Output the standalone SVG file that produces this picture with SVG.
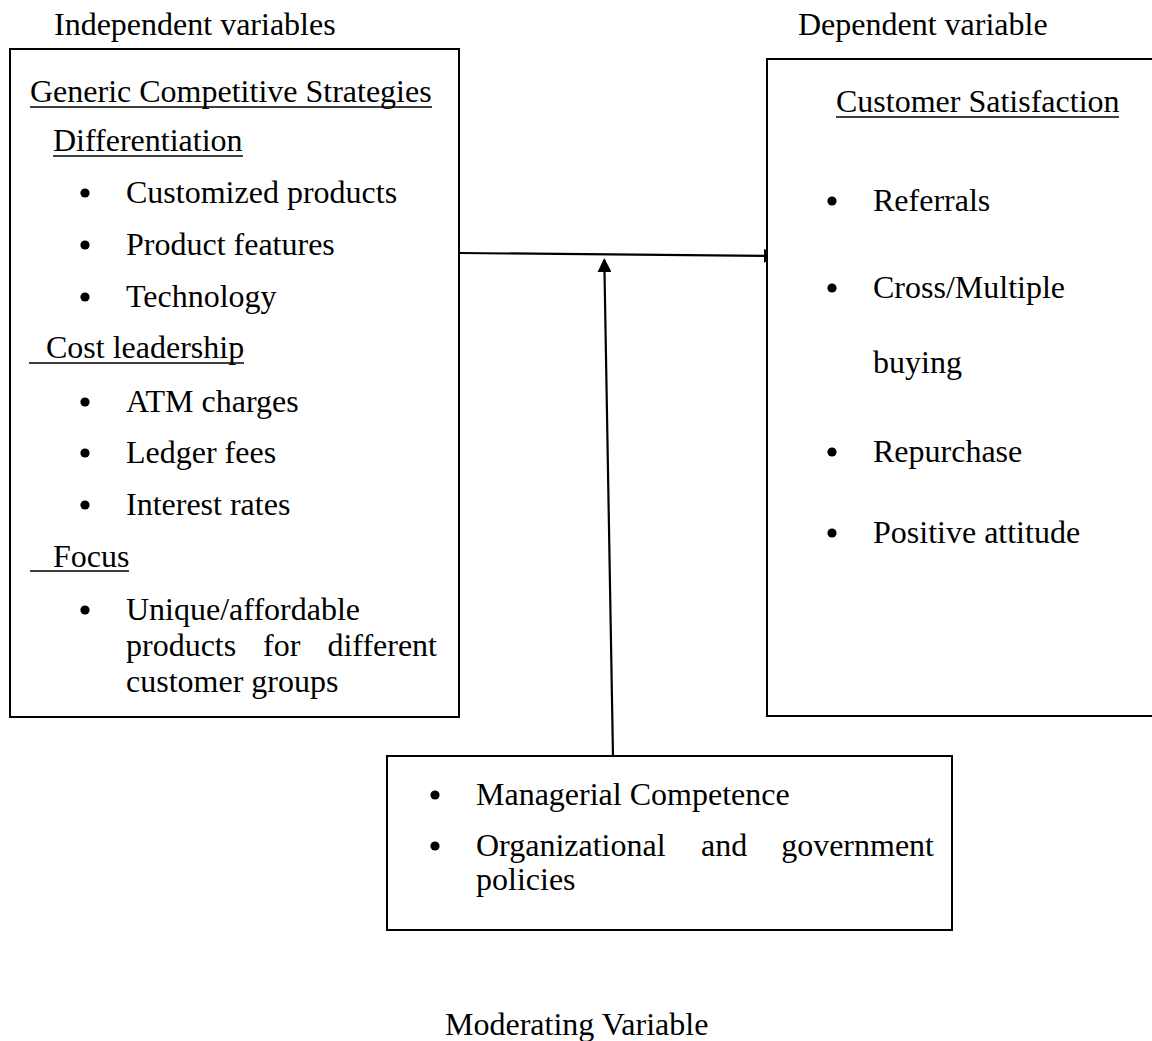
<svg xmlns="http://www.w3.org/2000/svg" width="1152" height="1041" viewBox="0 0 1152 1041">
<style>
text{font-family:"Liberation Serif","Times New Roman",serif;font-size:32px;fill:#000}
.box{fill:#fff;stroke:#000;stroke-width:2}
.ul{stroke:#000;stroke-width:1.6}
.conn{stroke:#000;stroke-width:2.2;fill:none}
.dot{fill:#000}
</style>
<defs>
<marker id="ah" markerWidth="14" markerHeight="14" refX="12" refY="7" orient="auto" markerUnits="userSpaceOnUse">
<path d="M0,0 L14,7 L0,14 Z" fill="#000"/>
</marker>
</defs>
<rect width="1152" height="1041" fill="#fff"/>
<text x="54" y="35">Independent variables</text>
<text x="798" y="35">Dependent variable</text>
<g id="connectors">
<line class="conn" x1="459" y1="253" x2="776" y2="256" marker-end="url(#ah)"/>
<line class="conn" x1="613" y1="757" x2="604.3" y2="260" marker-end="url(#ah)"/>
</g>
<g id="independent">
<rect class="box" x="10" y="49" width="449" height="668"/>
<text x="30" y="102">Generic Competitive Strategies</text>
<line class="ul" x1="30" y1="107" x2="432" y2="107"/>
<text x="53" y="151">Differentiation</text>
<line class="ul" x1="53" y1="156" x2="243" y2="156"/>
<circle class="dot" cx="85" cy="193" r="4.6"/><text x="126" y="203">Customized products</text>
<circle class="dot" cx="85" cy="245" r="4.6"/><text x="126" y="255">Product features</text>
<circle class="dot" cx="85" cy="297" r="4.6"/><text x="126" y="307">Technology</text>
<text x="46" y="358">Cost leadership</text>
<line class="ul" x1="29" y1="363" x2="244" y2="363"/>
<circle class="dot" cx="85" cy="402" r="4.6"/><text x="126" y="412">ATM charges</text>
<circle class="dot" cx="85" cy="453" r="4.6"/><text x="126" y="463">Ledger fees</text>
<circle class="dot" cx="85" cy="505" r="4.6"/><text x="126" y="515">Interest rates</text>
<text x="53" y="567">Focus</text>
<line class="ul" x1="30" y1="571" x2="129" y2="571"/>
<circle class="dot" cx="85" cy="610" r="4.6"/><text x="126" y="620">Unique/affordable</text>
<text x="126" y="656">products</text><text x="263" y="656">for</text><text x="437" y="656" text-anchor="end">different</text>
<text x="126" y="692">customer groups</text>
</g>
<g id="dependent">
<rect class="box" x="767" y="59" width="400" height="657"/>
<text x="836" y="112">Customer Satisfaction</text>
<line class="ul" x1="836" y1="117" x2="1119" y2="117"/>
<circle class="dot" cx="832" cy="201" r="4.6"/><text x="873" y="211">Referrals</text>
<circle class="dot" cx="832" cy="288" r="4.6"/><text x="873" y="298">Cross/Multiple</text>
<text x="873" y="373">buying</text>
<circle class="dot" cx="832" cy="452" r="4.6"/><text x="873" y="462">Repurchase</text>
<circle class="dot" cx="832" cy="533" r="4.6"/><text x="873" y="543">Positive attitude</text>
</g>
<g id="moderating">
<rect class="box" x="387" y="756" width="565" height="174"/>
<circle class="dot" cx="435" cy="795" r="4.6"/><text x="476" y="805">Managerial Competence</text>
<circle class="dot" cx="435" cy="846" r="4.6"/><text x="476" y="856">Organizational</text><text x="701" y="856">and</text><text x="934" y="856" text-anchor="end">government</text>
<text x="476" y="890">policies</text>
</g>
<text x="445" y="1035">Moderating Variable</text>
</svg>
